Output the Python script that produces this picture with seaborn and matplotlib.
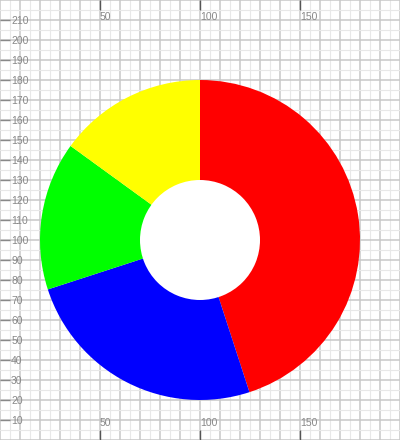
import matplotlib
matplotlib.use('Agg')
import matplotlib.pyplot as plt
import numpy as np
import seaborn as sns
from matplotlib.ticker import MultipleLocator

# slice shares, clockwise from 12 o'clock
labels = ['A', 'B', 'C', 'D']
shares = [45, 25, 15, 15]
slice_colors = ['#ff0000', '#0000ff', '#00ff00', '#ffff00']

x_ticks = [50, 100, 150]
y_ticks = list(range(10, 220, 10))

sns.set_style('white')
plt.rcParams['font.family'] = ['Liberation Sans', 'DejaVu Sans']

fig = plt.figure(figsize=(4, 4.4), dpi=100)
ax = fig.add_axes([0, 0, 1, 1])
ax.set_axisbelow(True)

ax.pie(shares, colors=slice_colors, startangle=90, counterclock=False,
       radius=80, center=(100, 100), frame=True,
       wedgeprops={'linewidth': 0, 'antialiased': True})
# hole in the middle
ax.pie([1], colors=['white'], radius=30, center=(100, 100), frame=True,
       wedgeprops={'linewidth': 0})

ax.set_xlim(0, 200)
ax.set_ylim(0, 220)
ax.set_aspect('equal')

ax.xaxis.set_major_locator(MultipleLocator(10))
ax.yaxis.set_major_locator(MultipleLocator(10))
ax.xaxis.set_minor_locator(MultipleLocator(5))
ax.yaxis.set_minor_locator(MultipleLocator(5))
ax.grid(True, which='major', color='#c8c8c8', linewidth=1.1)
ax.grid(True, which='minor', color='#e8e8e8', linewidth=0.8)

for s in ax.spines.values():
  s.set_visible(False)

# tick labels drawn on twin axes so the grid stays at every 10
ax.tick_params(which='both', length=0, labelbottom=False, labelleft=False)

tx = ax.twiny()
tx.set_xlim(ax.get_xlim())
tx.set_xticks(x_ticks)
tx.set_xticklabels([str(v) for v in x_ticks])
tx.tick_params(axis='x', direction='in', length=7, width=1, color='#555555',
               top=True, bottom=True, labeltop=True, labelbottom=True,
               labelsize=7.5, labelcolor='#888888', pad=-8.5)
for s in tx.spines.values():
  s.set_visible(False)
for t in tx.xaxis.get_major_ticks():
  t.label1.set_horizontalalignment('left')
  t.label1.set_verticalalignment('bottom')
  t.label2.set_horizontalalignment('left')
  t.label2.set_verticalalignment('top')

ty = ax.twinx()
ty.set_ylim(ax.get_ylim())
ty.set_yticks(y_ticks)
ty.set_yticklabels([str(v) for v in y_ticks])
ty.tick_params(axis='y', direction='in', length=7, width=1, color='#888888',
               left=True, right=False, labelleft=True, labelright=False,
               labelsize=7.5, labelcolor='#888888', pad=-8)
for s in ty.spines.values():
  s.set_visible(False)
for lab in ty.get_yticklabels():
  lab.set_horizontalalignment('left')

fig.savefig('out.png', dpi=100)
plt.close()
